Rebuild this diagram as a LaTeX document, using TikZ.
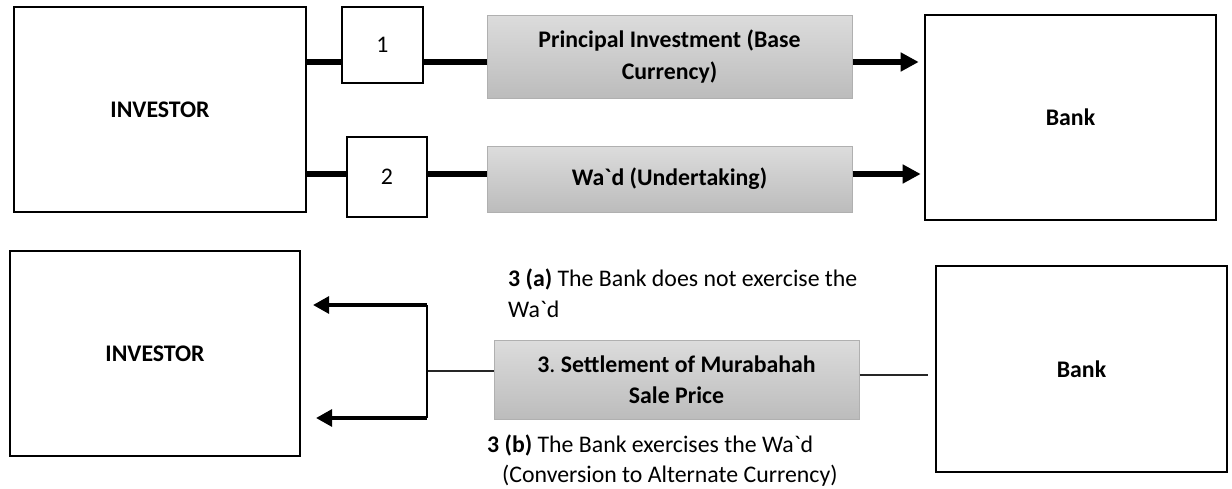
\documentclass[tikz,border=0pt]{standalone}
\usepackage{fontspec}
\setmainfont{Carlito}[Ligatures=TeXOff]
\usetikzlibrary{arrows.meta}
\definecolor{gtop}{HTML}{DCDCDC}
\definecolor{gbot}{HTML}{BCBCBC}
\definecolor{gedge}{HTML}{B0B0B0}
\newcommand{\diafont}{\fontsize{23.8}{31.5}\selectfont}
\tikzset{
  party/.style={draw=black, line width=2.2pt, fill=white, inner sep=0pt, font=\diafont\bfseries},
  numbox/.style={draw=black, line width=1.8pt, fill=white, inner sep=0pt, font=\diafont},
  flowbox/.style={draw=gedge, line width=1pt, top color=gtop, bottom color=gbot, inner sep=0pt, align=center, font=\diafont\bfseries},
  heavy/.style={line width=6pt},
  heavyarrow/.style={line width=6pt, -{Triangle[length=18pt,width=18pt]}},
  backarrow/.style={line width=3.2pt, -{Triangle[length=16pt,width=17pt]}},
  thinline/.style={line width=1.2pt, draw=black!85},
  note/.style={inner sep=0pt, align=left, anchor=west, font=\diafont}
}
\begin{document}
\begin{tikzpicture}[x=1pt,y=-1pt]
\useasboundingbox (0,0) rectangle (1232,488);
% top row
\node[party, minimum width=292pt, minimum height=205pt] (inv1) at (160,109.5) {INVESTOR};
\node[party, minimum width=291pt, minimum height=205pt, line width=2.6pt] (bank1) at (1070.5,117.5) {Bank};
\node[numbox, minimum width=81pt, minimum height=76pt] (n1) at (382.5,45) {1};
\node[numbox, minimum width=80pt, minimum height=80pt] (n2) at (387,177) {2};
\node[flowbox, minimum width=365pt, minimum height=83pt] (g1) at (669.5,56.5) {Principal Investment (Base\\Currency)};
\node[flowbox, minimum width=365pt, minimum height=66pt] (g2) at (669.5,179) {Wa`d (Undertaking)};
\coordinate (r1) at (0,62);
\coordinate (r2) at (0,174);
\draw[heavy] (inv1.east|-r1) -- (n1.west|-r1);
\draw[heavy] (n1.east|-r1) -- (g1.west|-r1);
\draw[heavyarrow, shorten >=5pt] (g1.east|-r1) -- (bank1.west|-r1);
\draw[heavy] (inv1.east|-r2) -- (n2.west|-r2);
\draw[heavy] (n2.east|-r2) -- (g2.west|-r2);
\draw[heavyarrow, shorten >=3pt] (g2.east|-r2) -- (bank1.west|-r2);
% bottom row
\node[party, minimum width=290pt, minimum height=205pt] (inv2) at (155,353.5) {INVESTOR};
\node[party, minimum width=291pt, minimum height=206pt, line width=2.6pt] (bank2) at (1081.5,369) {Bank};
\node[flowbox, minimum width=365pt, minimum height=79pt] (g3) at (676.5,379.5) {3\mdseries.\ \bfseries Settlement of Murabahah\\Sale Price};
\coordinate (split) at (427,371);
\coordinate (sa) at (427,305);
\coordinate (sb) at (427,418);
\draw[thinline] (g3.west|-split) -- (split);
\draw[line width=1.5pt] (sa) -- (sb);
\draw[backarrow, shorten >=12pt] (sa) -- (inv2.east|-sa);
\draw[backarrow, shorten >=15pt] (sb) -- (inv2.east|-sb);
\coordinate (rb) at (928,375);
\draw[thinline] (g3.east|-rb) -- (rb);
\node[note] (na) at (508,293) {\textbf{3 (a)} The Bank does not exercise the\\Wa`d};
\node[note, font=\fontsize{23.8}{30}\selectfont] (nb) at (487,461) {\textbf{3 (b)} The Bank exercises the Wa`d\\\hspace*{15pt}(Conversion to Alternate Currency)};
\end{tikzpicture}
\end{document}
